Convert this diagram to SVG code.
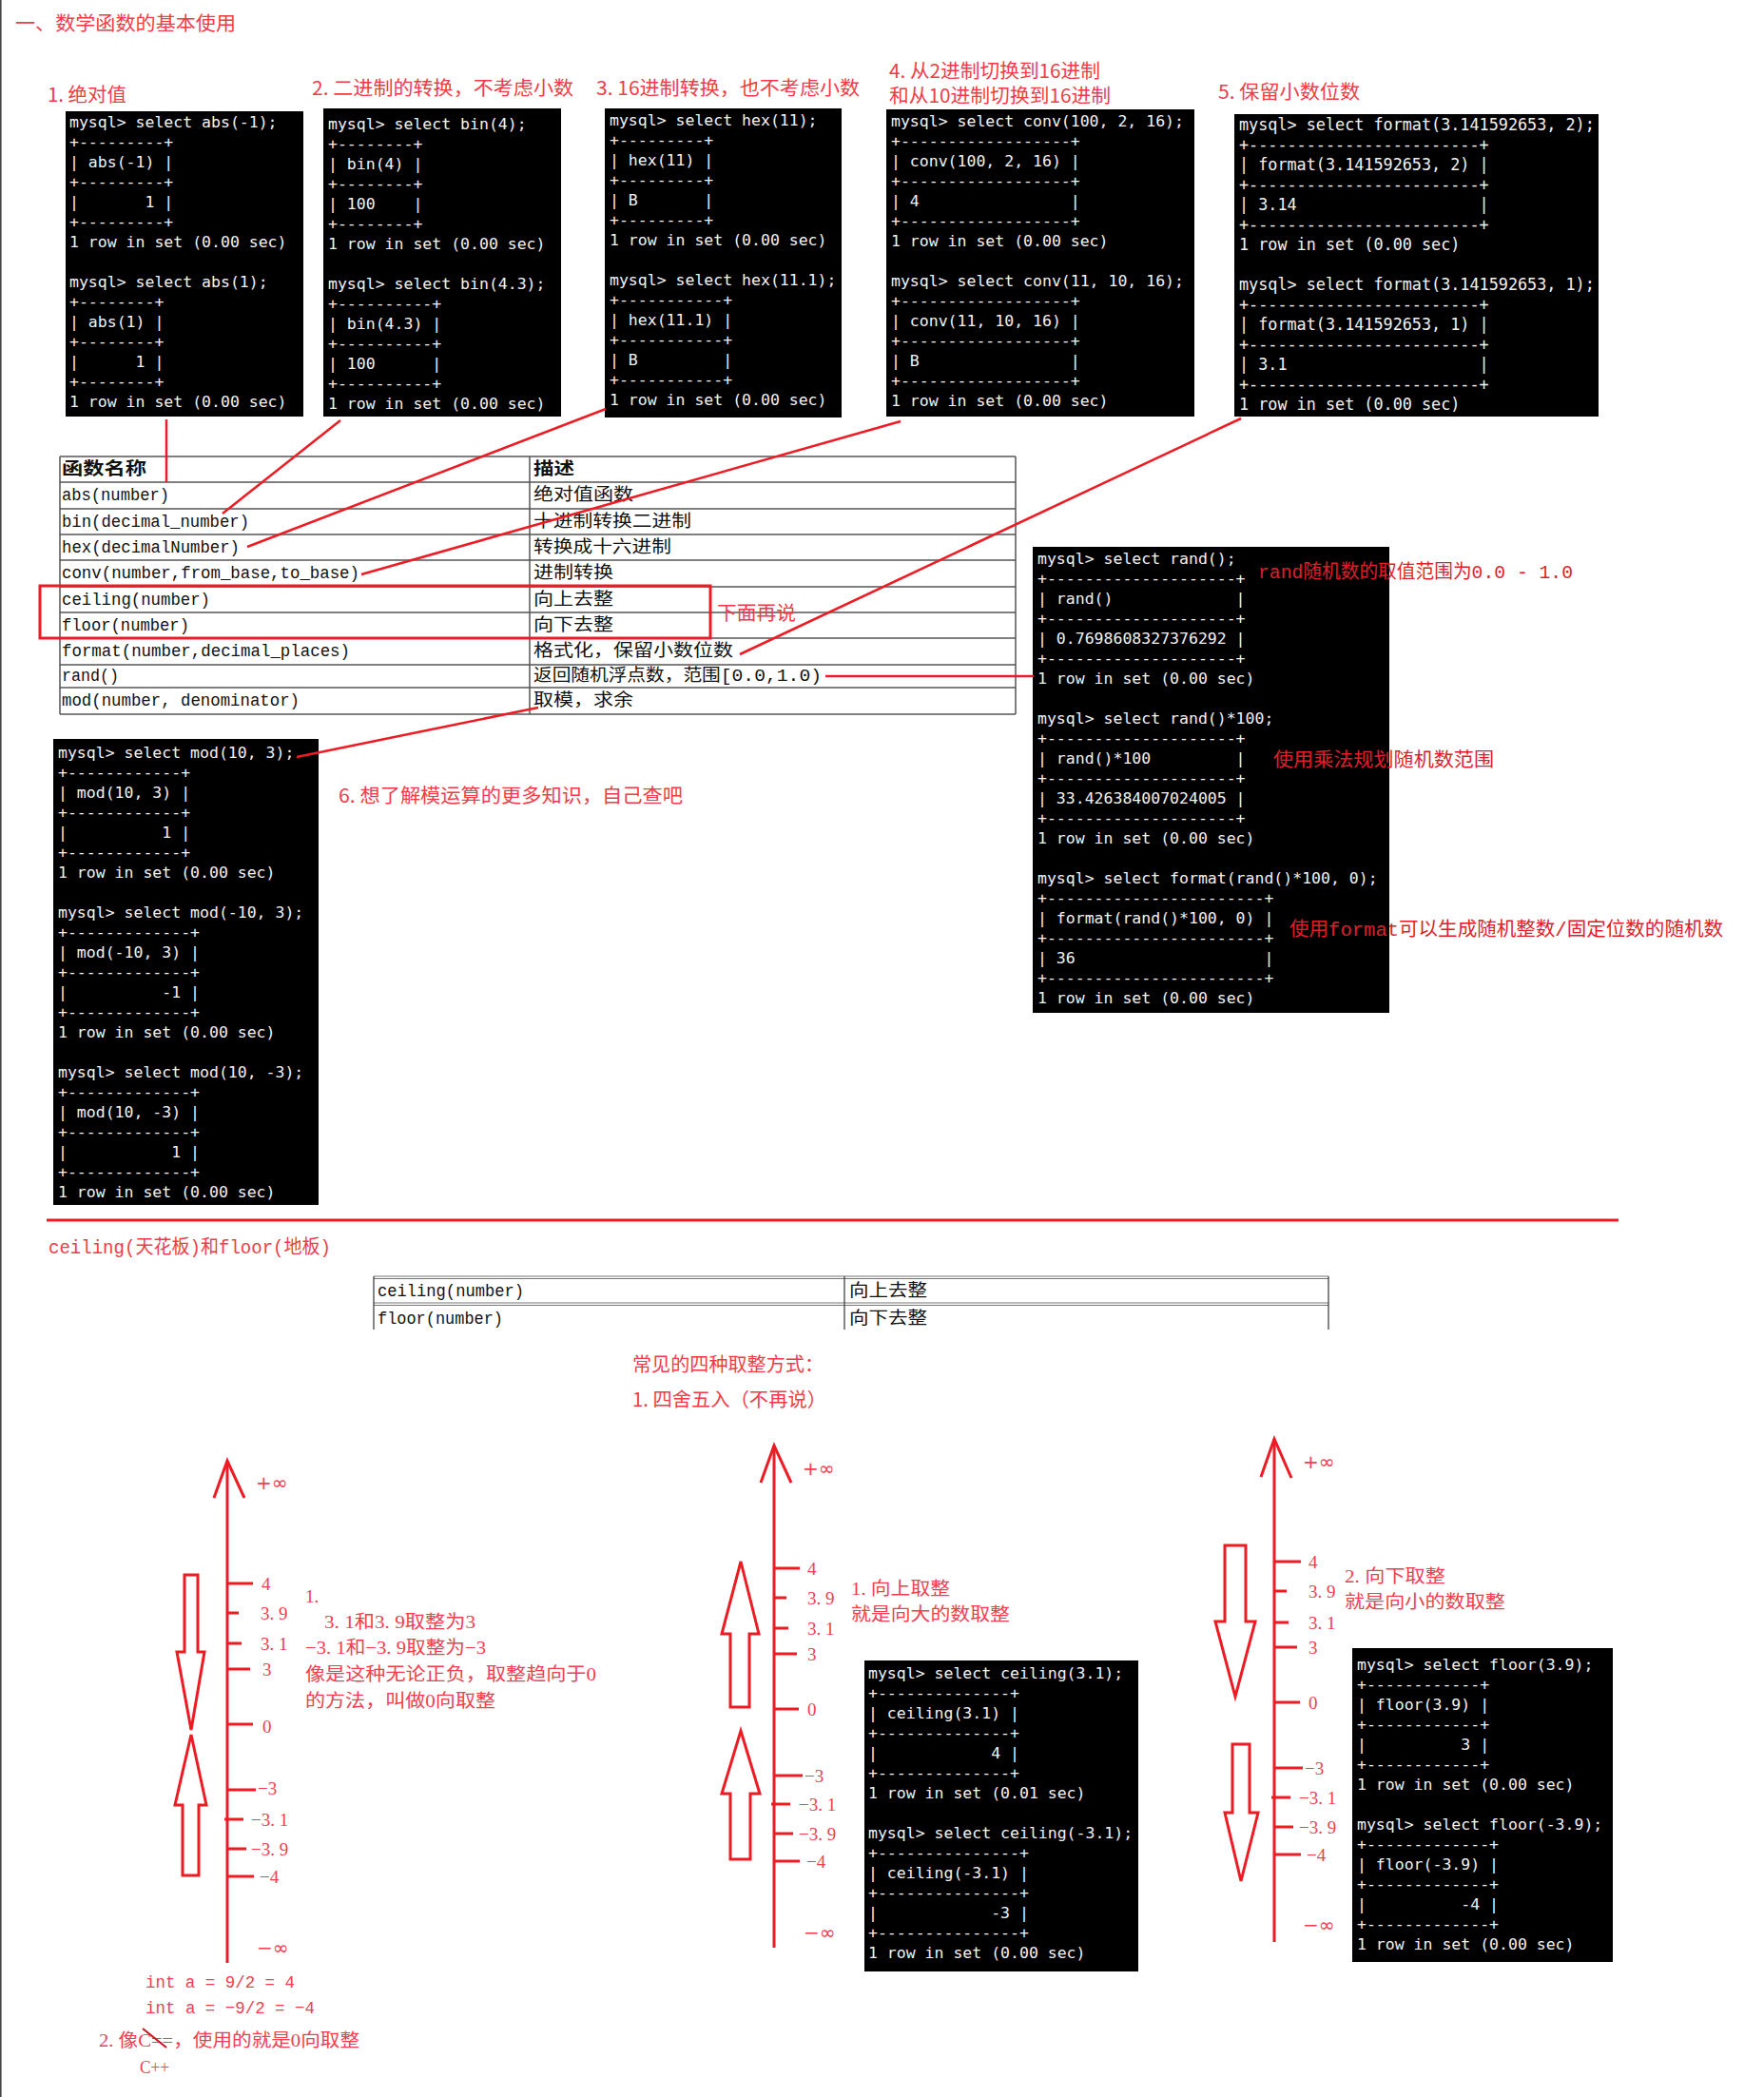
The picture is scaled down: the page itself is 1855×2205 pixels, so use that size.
<svg xmlns="http://www.w3.org/2000/svg" width="1855" height="2205" viewBox="0 0 1855 2205">
<style>
.term{fill:#000}
.tt{font-family:"DejaVu Sans Mono",monospace;font-size:16.5px;fill:#f2f2f2;white-space:pre}
.tt17{font-size:16.8px}
.lbl{font-family:"Noto Sans CJK SC",sans-serif;font-size:20px;fill:#f03c48;dominant-baseline:central}
.dk{fill:#e01e2a}
.tb{font-family:"Liberation Mono","Noto Sans CJK SC",monospace;font-size:18px;fill:#111;dominant-baseline:central}
.tbh{font-weight:bold}
.ax{font-family:"Liberation Serif","Noto Sans CJK SC",serif;font-size:19px;fill:#f04050;dominant-baseline:central}
.mono{font-family:"Liberation Mono","Noto Sans CJK SC",monospace}
.inf{font-family:"DejaVu Sans",sans-serif;font-size:20px}
.red{stroke:#ed1c24;stroke-width:2.5;fill:none}
.axis{stroke:#ed1c24;stroke-width:3;fill:none}
.blk{stroke:#ed1c24;stroke-width:3;fill:#fff;stroke-linejoin:miter}
.grid{stroke:#555;stroke-width:1.5}
</style>
<rect x="0" y="0" width="1855" height="2205" fill="#fff"/>
<rect x="0" y="0" width="1.6" height="2205" fill="#444"/>

<g id="title">
<text class="lbl" x="16" y="23" font-size="21" textLength="232" lengthAdjust="spacingAndGlyphs">一、数学函数的基本使用</text>
</g>

<g id="labels">
<text class="lbl" x="50" y="98" textLength="83" lengthAdjust="spacingAndGlyphs">1. 绝对值</text>
<text class="lbl" x="328" y="91" textLength="275" lengthAdjust="spacingAndGlyphs">2. 二进制的转换，不考虑小数</text>
<text class="lbl" x="627" y="91" textLength="277" lengthAdjust="spacingAndGlyphs">3. 16进制转换，也不考虑小数</text>
<text class="lbl" x="935" y="73" textLength="222" lengthAdjust="spacingAndGlyphs">4. 从2进制切换到16进制</text>
<text class="lbl" x="935" y="99" textLength="233" lengthAdjust="spacingAndGlyphs">和从10进制切换到16进制</text>
<text class="lbl" x="1281" y="95" textLength="149" lengthAdjust="spacingAndGlyphs">5. 保留小数位数</text>
</g>

<g id="term-abs">
<rect class="term" x="69" y="117" width="250" height="321"/>
<text class="tt" xml:space="preserve"><tspan x="73" y="134">mysql&gt; select abs(-1);</tspan><tspan x="73" dy="21">+---------+</tspan><tspan x="73" dy="21">| abs(-1) |</tspan><tspan x="73" dy="21">+---------+</tspan><tspan x="73" dy="21">|       1 |</tspan><tspan x="73" dy="21">+---------+</tspan><tspan x="73" dy="21">1 row in set (0.00 sec)</tspan><tspan x="73" dy="42">mysql&gt; select abs(1);</tspan><tspan x="73" dy="21">+--------+</tspan><tspan x="73" dy="21">| abs(1) |</tspan><tspan x="73" dy="21">+--------+</tspan><tspan x="73" dy="21">|      1 |</tspan><tspan x="73" dy="21">+--------+</tspan><tspan x="73" dy="21">1 row in set (0.00 sec)</tspan></text>
</g>

<g id="term-bin">
<rect class="term" x="340" y="114" width="250" height="324"/>
<text class="tt" xml:space="preserve"><tspan x="345" y="136">mysql&gt; select bin(4);</tspan><tspan x="345" dy="21">+--------+</tspan><tspan x="345" dy="21">| bin(4) |</tspan><tspan x="345" dy="21">+--------+</tspan><tspan x="345" dy="21">| 100    |</tspan><tspan x="345" dy="21">+--------+</tspan><tspan x="345" dy="21">1 row in set (0.00 sec)</tspan><tspan x="345" dy="42">mysql&gt; select bin(4.3);</tspan><tspan x="345" dy="21">+----------+</tspan><tspan x="345" dy="21">| bin(4.3) |</tspan><tspan x="345" dy="21">+----------+</tspan><tspan x="345" dy="21">| 100      |</tspan><tspan x="345" dy="21">+----------+</tspan><tspan x="345" dy="21">1 row in set (0.00 sec)</tspan></text>
</g>

<g id="term-hex">
<rect class="term" x="636" y="114" width="249" height="325"/>
<text class="tt" xml:space="preserve"><tspan x="641" y="132">mysql&gt; select hex(11);</tspan><tspan x="641" dy="21">+---------+</tspan><tspan x="641" dy="21">| hex(11) |</tspan><tspan x="641" dy="21">+---------+</tspan><tspan x="641" dy="21">| B       |</tspan><tspan x="641" dy="21">+---------+</tspan><tspan x="641" dy="21">1 row in set (0.00 sec)</tspan><tspan x="641" dy="42">mysql&gt; select hex(11.1);</tspan><tspan x="641" dy="21">+-----------+</tspan><tspan x="641" dy="21">| hex(11.1) |</tspan><tspan x="641" dy="21">+-----------+</tspan><tspan x="641" dy="21">| B         |</tspan><tspan x="641" dy="21">+-----------+</tspan><tspan x="641" dy="21">1 row in set (0.00 sec)</tspan></text>
</g>

<g id="term-conv">
<rect class="term" x="932" y="115" width="324" height="323"/>
<text class="tt" xml:space="preserve"><tspan x="937" y="133">mysql&gt; select conv(100, 2, 16);</tspan><tspan x="937" dy="21">+------------------+</tspan><tspan x="937" dy="21">| conv(100, 2, 16) |</tspan><tspan x="937" dy="21">+------------------+</tspan><tspan x="937" dy="21">| 4                |</tspan><tspan x="937" dy="21">+------------------+</tspan><tspan x="937" dy="21">1 row in set (0.00 sec)</tspan><tspan x="937" dy="42">mysql&gt; select conv(11, 10, 16);</tspan><tspan x="937" dy="21">+------------------+</tspan><tspan x="937" dy="21">| conv(11, 10, 16) |</tspan><tspan x="937" dy="21">+------------------+</tspan><tspan x="937" dy="21">| B                |</tspan><tspan x="937" dy="21">+------------------+</tspan><tspan x="937" dy="21">1 row in set (0.00 sec)</tspan></text>
</g>

<g id="term-format">
<rect class="term" x="1298" y="120" width="383" height="318"/>
<text class="tt tt17" xml:space="preserve"><tspan x="1303" y="137">mysql&gt; select format(3.141592653, 2);</tspan><tspan x="1303" dy="21">+------------------------+</tspan><tspan x="1303" dy="21">| format(3.141592653, 2) |</tspan><tspan x="1303" dy="21">+------------------------+</tspan><tspan x="1303" dy="21">| 3.14                   |</tspan><tspan x="1303" dy="21">+------------------------+</tspan><tspan x="1303" dy="21">1 row in set (0.00 sec)</tspan><tspan x="1303" dy="42">mysql&gt; select format(3.141592653, 1);</tspan><tspan x="1303" dy="21">+------------------------+</tspan><tspan x="1303" dy="21">| format(3.141592653, 1) |</tspan><tspan x="1303" dy="21">+------------------------+</tspan><tspan x="1303" dy="21">| 3.1                    |</tspan><tspan x="1303" dy="21">+------------------------+</tspan><tspan x="1303" dy="21">1 row in set (0.00 sec)</tspan></text>
</g>

<g id="table">
<g class="grid">
<line x1="63" y1="480" x2="1068" y2="480"/>
<line x1="63" y1="507" x2="1068" y2="507"/>
<line x1="63" y1="535" x2="1068" y2="535"/>
<line x1="63" y1="562" x2="1068" y2="562"/>
<line x1="63" y1="589" x2="1068" y2="589"/>
<line x1="63" y1="617" x2="1068" y2="617"/>
<line x1="63" y1="644" x2="1068" y2="644"/>
<line x1="63" y1="671" x2="1068" y2="671"/>
<line x1="63" y1="699" x2="1068" y2="699"/>
<line x1="63" y1="723" x2="1068" y2="723"/>
<line x1="63" y1="751" x2="1068" y2="751"/>
<line x1="63" y1="480" x2="63" y2="751"/>
<line x1="557" y1="480" x2="557" y2="751"/>
<line x1="1068" y1="480" x2="1068" y2="751"/>
</g>
<text class="tb tbh" x="65" y="494" textLength="89" lengthAdjust="spacingAndGlyphs">函数名称</text>
<text class="tb tbh" x="561" y="494" textLength="43" lengthAdjust="spacingAndGlyphs">描述</text>
<text class="tb" x="65" y="521" textLength="113" lengthAdjust="spacingAndGlyphs">abs(number)</text>
<text class="tb" x="65" y="549" textLength="197" lengthAdjust="spacingAndGlyphs">bin(decimal_number)</text>
<text class="tb" x="65" y="576" textLength="187" lengthAdjust="spacingAndGlyphs">hex(decimalNumber)</text>
<text class="tb" x="65" y="603" textLength="313" lengthAdjust="spacingAndGlyphs">conv(number,from_base,to_base)</text>
<text class="tb" x="65" y="631" textLength="156" lengthAdjust="spacingAndGlyphs">ceiling(number)</text>
<text class="tb" x="65" y="658" textLength="134" lengthAdjust="spacingAndGlyphs">floor(number)</text>
<text class="tb" x="65" y="685" textLength="303" lengthAdjust="spacingAndGlyphs">format(number,decimal_places)</text>
<text class="tb" x="65" y="711" textLength="60" lengthAdjust="spacingAndGlyphs">rand()</text>
<text class="tb" x="65" y="737" textLength="250" lengthAdjust="spacingAndGlyphs">mod(number, denominator)</text>
<text class="tb" x="561" y="521" textLength="105" lengthAdjust="spacingAndGlyphs">绝对值函数</text>
<text class="tb" x="561" y="549" textLength="166" lengthAdjust="spacingAndGlyphs">十进制转换二进制</text>
<text class="tb" x="561" y="576" textLength="145" lengthAdjust="spacingAndGlyphs">转换成十六进制</text>
<text class="tb" x="561" y="603" textLength="84" lengthAdjust="spacingAndGlyphs">进制转换</text>
<text class="tb" x="561" y="631" textLength="84" lengthAdjust="spacingAndGlyphs">向上去整</text>
<text class="tb" x="561" y="658" textLength="84" lengthAdjust="spacingAndGlyphs">向下去整</text>
<text class="tb" x="561" y="685" textLength="210" lengthAdjust="spacingAndGlyphs">格式化，保留小数位数</text>
<text class="tb" x="561" y="711" textLength="303" lengthAdjust="spacingAndGlyphs">返回随机浮点数，范围[0.0,1.0)</text>
<text class="tb" x="561" y="737" textLength="105" lengthAdjust="spacingAndGlyphs">取模，求余</text>
</g>

<g id="ceil-floor-box">
<rect x="42" y="616" width="705" height="55" fill="none" stroke="#ed1c24" stroke-width="3"/>
<text class="lbl" x="754" y="643" textLength="83" lengthAdjust="spacingAndGlyphs">下面再说</text>
</g>

<g id="term-rand">
<rect class="term" x="1086" y="575" width="375" height="490"/>
<text class="tt" xml:space="preserve"><tspan x="1091" y="593">mysql&gt; select rand();</tspan><tspan x="1091" dy="21">+--------------------+</tspan><tspan x="1091" dy="21">| rand()             |</tspan><tspan x="1091" dy="21">+--------------------+</tspan><tspan x="1091" dy="21">| 0.7698608327376292 |</tspan><tspan x="1091" dy="21">+--------------------+</tspan><tspan x="1091" dy="21">1 row in set (0.00 sec)</tspan><tspan x="1091" dy="42">mysql&gt; select rand()*100;</tspan><tspan x="1091" dy="21">+--------------------+</tspan><tspan x="1091" dy="21">| rand()*100         |</tspan><tspan x="1091" dy="21">+--------------------+</tspan><tspan x="1091" dy="21">| 33.426384007024005 |</tspan><tspan x="1091" dy="21">+--------------------+</tspan><tspan x="1091" dy="21">1 row in set (0.00 sec)</tspan><tspan x="1091" dy="42">mysql&gt; select format(rand()*100, 0);</tspan><tspan x="1091" dy="21">+-----------------------+</tspan><tspan x="1091" dy="21">| format(rand()*100, 0) |</tspan><tspan x="1091" dy="21">+-----------------------+</tspan><tspan x="1091" dy="21">| 36                    |</tspan><tspan x="1091" dy="21">+-----------------------+</tspan><tspan x="1091" dy="21">1 row in set (0.00 sec)</tspan></text>
<text class="lbl dk mono" x="1323" y="602" textLength="331" lengthAdjust="spacingAndGlyphs">rand随机数的取值范围为0.0 - 1.0</text>
<text class="lbl dk" x="1339" y="797" textLength="232" lengthAdjust="spacingAndGlyphs">使用乘法规划随机数范围</text>
<text class="lbl dk mono" x="1356" y="978" textLength="456" lengthAdjust="spacingAndGlyphs">使用format可以生成随机整数/固定位数的随机数</text>
</g>

<g id="term-mod">
<rect class="term" x="56" y="777" width="279" height="490"/>
<text class="tt" xml:space="preserve"><tspan x="61" y="797">mysql&gt; select mod(10, 3);</tspan><tspan x="61" dy="21">+------------+</tspan><tspan x="61" dy="21">| mod(10, 3) |</tspan><tspan x="61" dy="21">+------------+</tspan><tspan x="61" dy="21">|          1 |</tspan><tspan x="61" dy="21">+------------+</tspan><tspan x="61" dy="21">1 row in set (0.00 sec)</tspan><tspan x="61" dy="42">mysql&gt; select mod(-10, 3);</tspan><tspan x="61" dy="21">+-------------+</tspan><tspan x="61" dy="21">| mod(-10, 3) |</tspan><tspan x="61" dy="21">+-------------+</tspan><tspan x="61" dy="21">|          -1 |</tspan><tspan x="61" dy="21">+-------------+</tspan><tspan x="61" dy="21">1 row in set (0.00 sec)</tspan><tspan x="61" dy="42">mysql&gt; select mod(10, -3);</tspan><tspan x="61" dy="21">+-------------+</tspan><tspan x="61" dy="21">| mod(10, -3) |</tspan><tspan x="61" dy="21">+-------------+</tspan><tspan x="61" dy="21">|           1 |</tspan><tspan x="61" dy="21">+-------------+</tspan><tspan x="61" dy="21">1 row in set (0.00 sec)</tspan></text>
<text class="lbl" x="356" y="835" textLength="362" lengthAdjust="spacingAndGlyphs">6. 想了解模运算的更多知识，自己查吧</text>
</g>

<g id="connectors">
<line class="red" x1="175" y1="441" x2="175" y2="507"/>
<line class="red" x1="358" y1="442" x2="234" y2="540"/>
<line class="red" x1="637" y1="430" x2="260" y2="575"/>
<line class="red" x1="947" y1="443" x2="380" y2="604"/>
<line class="red" x1="1305" y1="440" x2="778" y2="688"/>
<line class="red" x1="868" y1="711" x2="1087" y2="711"/>
<line class="red" x1="566" y1="744" x2="312" y2="796"/>
</g>

<g id="divider">
<line x1="49" y1="1283" x2="1702" y2="1283" stroke="#ed1c24" stroke-width="3"/>
<text class="lbl mono" x="51" y="1312" textLength="297" lengthAdjust="spacingAndGlyphs">ceiling(天花板)和floor(地板)</text>
</g>

<g id="table2">
<g stroke="#777" stroke-width="1.2">
<line x1="393" y1="1342" x2="1397" y2="1342"/>
<line x1="393" y1="1344.5" x2="1397" y2="1344.5"/>
<line x1="393" y1="1370" x2="1397" y2="1370"/>
<line x1="393" y1="1372.5" x2="1397" y2="1372.5"/>
</g>
<g stroke="#333" stroke-width="1.2">
<line x1="393" y1="1342" x2="393" y2="1398"/>
<line x1="888" y1="1342" x2="888" y2="1398"/>
<line x1="1397" y1="1342" x2="1397" y2="1398"/>
</g>
<text class="tb" x="397" y="1358" textLength="154" lengthAdjust="spacingAndGlyphs">ceiling(number)</text>
<text class="tb" x="397" y="1387" textLength="132" lengthAdjust="spacingAndGlyphs">floor(number)</text>
<text class="tb" x="893" y="1358" textLength="82" lengthAdjust="spacingAndGlyphs">向上去整</text>
<text class="tb" x="893" y="1387" textLength="82" lengthAdjust="spacingAndGlyphs">向下去整</text>
</g>

<g id="rounding-title">
<text class="lbl" x="665" y="1433" textLength="201" lengthAdjust="spacingAndGlyphs">常见的四种取整方式：</text>
<text class="lbl" x="665" y="1470" textLength="204" lengthAdjust="spacingAndGlyphs">1. 四舍五入（不再说）</text>
</g>

<g id="axis-zero">
<line class="axis" x1="239" y1="1536" x2="239" y2="2064"/>
<polyline class="axis" points="225,1575 239,1536 257,1575"/>
<g class="axis">
<line x1="239" y1="1665" x2="266" y2="1665"/>
<line x1="239" y1="1696" x2="251" y2="1696"/>
<line x1="239" y1="1728" x2="254" y2="1728"/>
<line x1="239" y1="1755" x2="263" y2="1755"/>
<line x1="239" y1="1813" x2="266" y2="1813"/>
<line x1="239" y1="1882" x2="269" y2="1882"/>
<line x1="236" y1="1913" x2="256" y2="1913"/>
<line x1="239" y1="1944" x2="259" y2="1944"/>
<line x1="239" y1="1973" x2="267" y2="1973"/>
</g>
<polygon class="blk" points="194,1656 208,1656 208,1737 215,1737 201,1819 186,1737 194,1737"/>
<polygon class="blk" points="201,1824 217,1898 209,1898 209,1972 192,1972 192,1898 184,1898"/>
<text class="ax inf" x="269" y="1559">+∞</text>
<text class="ax" x="275" y="1665">4</text>
<text class="ax" x="274" y="1696">3. 9</text>
<text class="ax" x="274" y="1728">3. 1</text>
<text class="ax" x="276" y="1755">3</text>
<text class="ax" x="276" y="1815">0</text>
<text class="ax" x="271" y="1880">−3</text>
<text class="ax" x="264" y="1913">−3. 1</text>
<text class="ax" x="264" y="1944">−3. 9</text>
<text class="ax" x="273" y="1973">−4</text>
<text class="ax inf" x="270" y="2048">−∞</text>
<text class="ax" x="321" y="1678">1.</text>
<text class="ax" x="341" y="1705" textLength="159" lengthAdjust="spacingAndGlyphs">3. 1和3. 9取整为3</text>
<text class="ax" x="321" y="1732" textLength="190" lengthAdjust="spacingAndGlyphs">−3. 1和−3. 9取整为−3</text>
<text class="ax" x="321" y="1760" textLength="306" lengthAdjust="spacingAndGlyphs">像是这种无论正负，取整趋向于0</text>
<text class="ax" x="321" y="1788" textLength="200" lengthAdjust="spacingAndGlyphs">的方法，叫做0向取整</text>
<text class="ax mono" x="153" y="2085" textLength="157" lengthAdjust="spacingAndGlyphs">int a = 9/2 = 4</text>
<text class="ax mono" x="153" y="2112" textLength="178" lengthAdjust="spacingAndGlyphs">int a = −9/2 = −4</text>
<text class="ax" x="104" y="2145" textLength="274" lengthAdjust="spacingAndGlyphs">2. 像C==，使用的就是0向取整</text>
<text class="ax" x="147" y="2173" textLength="31" lengthAdjust="spacingAndGlyphs">C++</text>
<line x1="150" y1="2133" x2="175" y2="2153" stroke="#d0101a" stroke-width="2"/>
</g>

<g id="axis-ceiling">
<line class="axis" x1="814" y1="1520" x2="814" y2="2048"/>
<polyline class="axis" points="800,1559 814,1520 832,1559"/>
<g class="axis">
<line x1="814" y1="1649" x2="841" y2="1649"/>
<line x1="814" y1="1680" x2="827" y2="1680"/>
<line x1="814" y1="1712" x2="829" y2="1712"/>
<line x1="814" y1="1739" x2="838" y2="1739"/>
<line x1="814" y1="1797" x2="840" y2="1797"/>
<line x1="814" y1="1867" x2="844" y2="1867"/>
<line x1="811" y1="1897" x2="831" y2="1897"/>
<line x1="814" y1="1928" x2="834" y2="1928"/>
<line x1="814" y1="1957" x2="841" y2="1957"/>
</g>
<polygon class="blk" points="779,1642 798,1718 788,1718 788,1795 768,1795 768,1718 759,1718"/>
<polygon class="blk" points="779,1820 799,1886 789,1886 789,1955 768,1955 768,1886 759,1886"/>
<text class="ax inf" x="844" y="1544">+∞</text>
<text class="ax" x="849" y="1649">4</text>
<text class="ax" x="849" y="1680">3. 9</text>
<text class="ax" x="849" y="1712">3. 1</text>
<text class="ax" x="849" y="1739">3</text>
<text class="ax" x="849" y="1797">0</text>
<text class="ax" x="846" y="1867">−3</text>
<text class="ax" x="840" y="1897">−3. 1</text>
<text class="ax" x="840" y="1928">−3. 9</text>
<text class="ax" x="848" y="1957">−4</text>
<text class="ax inf" x="845" y="2032">−∞</text>
<text class="ax" x="895" y="1670" textLength="104" lengthAdjust="spacingAndGlyphs">1. 向上取整</text>
<text class="ax" x="895" y="1697" textLength="167" lengthAdjust="spacingAndGlyphs">就是向大的数取整</text>
</g>

<g id="term-ceiling">
<rect class="term" x="909" y="1746" width="288" height="327"/>
<text class="tt" xml:space="preserve"><tspan x="913" y="1765">mysql&gt; select ceiling(3.1);</tspan><tspan x="913" dy="21">+--------------+</tspan><tspan x="913" dy="21">| ceiling(3.1) |</tspan><tspan x="913" dy="21">+--------------+</tspan><tspan x="913" dy="21">|            4 |</tspan><tspan x="913" dy="21">+--------------+</tspan><tspan x="913" dy="21">1 row in set (0.01 sec)</tspan><tspan x="913" dy="42">mysql&gt; select ceiling(-3.1);</tspan><tspan x="913" dy="21">+---------------+</tspan><tspan x="913" dy="21">| ceiling(-3.1) |</tspan><tspan x="913" dy="21">+---------------+</tspan><tspan x="913" dy="21">|            -3 |</tspan><tspan x="913" dy="21">+---------------+</tspan><tspan x="913" dy="21">1 row in set (0.00 sec)</tspan></text>
</g>

<g id="axis-floor">
<line class="axis" x1="1340" y1="1513" x2="1340" y2="2042"/>
<polyline class="axis" points="1326,1553 1340,1513 1358,1554"/>
<g class="axis">
<line x1="1340" y1="1642" x2="1368" y2="1642"/>
<line x1="1340" y1="1673" x2="1353" y2="1673"/>
<line x1="1340" y1="1706" x2="1355" y2="1706"/>
<line x1="1340" y1="1732" x2="1364" y2="1732"/>
<line x1="1340" y1="1790" x2="1367" y2="1790"/>
<line x1="1340" y1="1859" x2="1370" y2="1859"/>
<line x1="1337" y1="1890" x2="1357" y2="1890"/>
<line x1="1340" y1="1921" x2="1360" y2="1921"/>
<line x1="1340" y1="1950" x2="1368" y2="1950"/>
</g>
<polygon class="blk" points="1288,1625 1310,1625 1310,1705 1320,1705 1299,1784 1278,1705 1288,1705"/>
<polygon class="blk" points="1296,1834 1314,1834 1314,1906 1323,1906 1305,1978 1288,1906 1296,1906"/>
<text class="ax inf" x="1370" y="1537">+∞</text>
<text class="ax" x="1376" y="1642">4</text>
<text class="ax" x="1376" y="1673">3. 9</text>
<text class="ax" x="1376" y="1706">3. 1</text>
<text class="ax" x="1376" y="1732">3</text>
<text class="ax" x="1376" y="1790">0</text>
<text class="ax" x="1372" y="1859">−3</text>
<text class="ax" x="1366" y="1890">−3. 1</text>
<text class="ax" x="1366" y="1921">−3. 9</text>
<text class="ax" x="1374" y="1950">−4</text>
<text class="ax inf" x="1370" y="2024">−∞</text>
<text class="ax" x="1414" y="1657" textLength="106" lengthAdjust="spacingAndGlyphs">2. 向下取整</text>
<text class="ax" x="1414" y="1684" textLength="169" lengthAdjust="spacingAndGlyphs">就是向小的数取整</text>
</g>

<g id="term-floor">
<rect class="term" x="1422" y="1733" width="274" height="330"/>
<text class="tt" xml:space="preserve"><tspan x="1427" y="1756">mysql&gt; select floor(3.9);</tspan><tspan x="1427" dy="21">+------------+</tspan><tspan x="1427" dy="21">| floor(3.9) |</tspan><tspan x="1427" dy="21">+------------+</tspan><tspan x="1427" dy="21">|          3 |</tspan><tspan x="1427" dy="21">+------------+</tspan><tspan x="1427" dy="21">1 row in set (0.00 sec)</tspan><tspan x="1427" dy="42">mysql&gt; select floor(-3.9);</tspan><tspan x="1427" dy="21">+-------------+</tspan><tspan x="1427" dy="21">| floor(-3.9) |</tspan><tspan x="1427" dy="21">+-------------+</tspan><tspan x="1427" dy="21">|          -4 |</tspan><tspan x="1427" dy="21">+-------------+</tspan><tspan x="1427" dy="21">1 row in set (0.00 sec)</tspan></text>
</g>
</svg>
